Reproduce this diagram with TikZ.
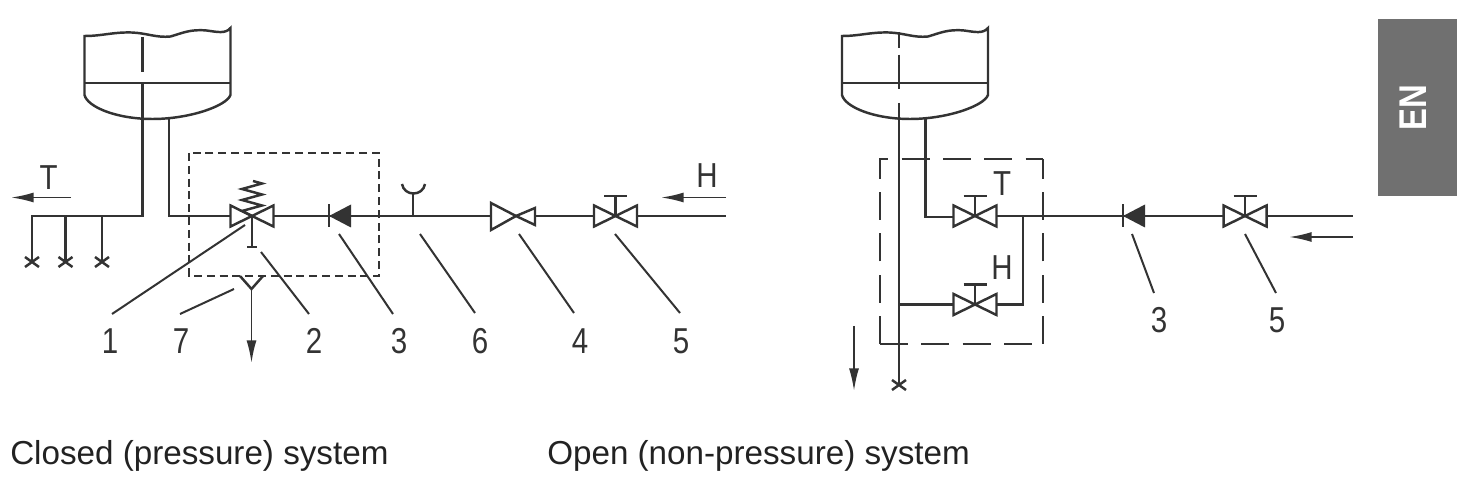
\documentclass[tikz,border=0pt]{standalone}
\usepackage{fontspec}
\usepackage{graphicx}
\setmainfont{Liberation Sans}
\usetikzlibrary{arrows.meta}
\definecolor{ink}{HTML}{333333}
\definecolor{txt}{HTML}{222222}
\definecolor{tabgrey}{HTML}{707070}
\tikzset{
  pipe/.style={draw=ink,line width=1.85pt,line join=miter},
  leader/.style={draw=ink,line width=1.5pt},
  shortbox/.style={draw=ink,line width=1.5pt,dash pattern=on 6pt off 3.6pt},
  longbox/.style={draw=ink,line width=1.8pt,dash pattern=on 21pt off 10pt},
  flow/.style={draw=ink,line width=1.4pt,-{Latex[length=17pt,width=7.5pt]}},
  num/.style={text=ink,font=\fontsize{27}{27}\selectfont,xscale=.82,inner sep=0pt},
  letter/.style={text=ink,font=\fontsize{26}{26}\selectfont,xscale=.85,inner sep=0pt},
  caption/.style={text=txt,font=\fontsize{24.9}{26}\selectfont,anchor=base west,inner sep=0pt},
  pics/valve/.style={code={
    \draw[pipe] (-21.5,-10.5) -- (0,0) -- (-21.5,10.5) -- cycle;
    \draw[pipe] (21.5,-10.5) -- (0,0) -- (21.5,10.5) -- cycle;}},
  pics/handvalve/.style={code={
    \draw[pipe] (-21.5,-10.5) -- (0,0) -- (-21.5,10.5) -- cycle;
    \draw[pipe] (21.5,-10.5) -- (0,0) -- (21.5,10.5) -- cycle;
    \draw[pipe] (0,0) -- (0,-20);
    \draw[pipe] (-11.5,-20) -- (11.5,-20);}},
  pics/check/.style={code={
    \fill[ink] (0,0) -- (22,-11.5) -- (22,11.5) -- cycle;
    \draw[pipe] (0,-11.5) -- (0,11.5);}},
  pics/cross/.style={code={
    \draw[pipe] (-7,-5) -- (7,5) (-7,5) -- (7,-5);}},
  pics/tank/.style={code={
    \draw[pipe] (0,36) .. controls (18,36) and (28,32) .. (47,32.5)
      .. controls (62,33) and (72,38) .. (86,36.5)
      .. controls (98,33) and (106,29) .. (122,30.5)
      .. controls (133,32) and (141,34) .. (146,28) -- (146,95)
      .. controls (142,106) and (105,119) .. (68,119)
      .. controls (32,119) and (3,107) .. (0,95) -- cycle;
    \draw[pipe] (0,83) -- (146,83);}}
}
\begin{document}
\begin{tikzpicture}[x=0.75pt,y=-0.75pt]
\useasboundingbox (0,0) rectangle (1459,484);
% ---------- closed system
\pic at (84.5,0) {tank};
\coordinate (ctop) at (142.5,37);
\coordinate (ctopb) at (142.5,72);
\coordinate (cout) at (142.5,83);
\coordinate (cbend) at (142.5,216);
\coordinate (cend) at (32,216);
\coordinate (cx1) at (32,262);
\coordinate (cj2) at (65.5,216);
\coordinate (cx2) at (65.5,262);
\coordinate (cj3) at (102,216);
\coordinate (cx3) at (102,262);
\draw[pipe] (ctop) -- (ctopb);
\draw[pipe] (cout) -- (cbend) -- (cend) -- (cx1);
\draw[pipe] (cj2) -- (cx2);
\draw[pipe] (cj3) -- (cx3);
\pic at (cx1) {cross};
\pic at (cx2) {cross};
\pic at (cx3) {cross};
\coordinate (ttl) at (11,197.5);
\coordinate (ttr) at (71,197.5);
\draw[flow] (ttr) -- (ttl);
\node[letter] (lT) at (48.5,178) {T};
% inlet line
\coordinate (cin) at (169,119);
\coordinate (cinb) at (169,216);
\coordinate (v1) at (252,216);
\coordinate (c3) at (329,216);
\coordinate (c6) at (413,216);
\coordinate (v4) at (516,216);
\coordinate (v5) at (615.5,216);
\coordinate (cr) at (726,216);
\draw[pipe] (cin) -- (cinb) -- (230,216);
\draw[pipe] (273.5,216) -- (c3);
\draw[pipe] (c3) -- (491,216);
\draw[pipe] (535,216) -- (594,216);
\draw[pipe] (637,216) -- (cr);
\draw[shortbox] (189,153) rectangle (379,276);
\pic at (v1) {valve};
\draw[pipe] (v1) -- ++(-10,-5) -- ++(20,-5.5) -- ++(-20,-5.5) -- ++(20,-5.5) -- ++(-20,-5.5) -- ++(20,-5.5) -- ++(-9,-2.5);
\draw[pipe] (v1) -- (252,247);
\draw[pipe] (247,247) -- (257,247);
\pic at (c3) {check};
% funnel 6
\coordinate (f6) at (413,193);
\draw[pipe] (c6) -- (f6);
\draw[pipe] (402,184) .. controls (403,190) and (408,193.5) .. (413.5,193.5) .. controls (419,193.5) and (424,190) .. (425,184);
% valve 4
\draw[pipe] (491,203) -- (v4) -- (491,230) -- cycle;
\draw[pipe] (535,208) -- (v4) -- (535,225) -- cycle;
\pic at (v5) {handvalve};
\coordinate (hr) at (726,197.5);
\coordinate (hl) at (661,197.5);
\draw[flow] (hr) -- (hl);
\node[letter] (lH) at (707,176) {H};
% funnel 7
\coordinate (f7) at (251.5,289);
\coordinate (f7end) at (251.5,363);
\draw[pipe] (240,276) -- (f7) -- (263,276);
\draw[flow] (f7) -- (f7end);
% leaders and numbers
\node[num] (n1) at (110,341) {1};
\node[num] (n7) at (181,341) {7};
\node[num] (n2) at (314,341) {2};
\node[num] (n3) at (399,341) {3};
\node[num] (n6) at (480,341) {6};
\node[num] (n4) at (580,341) {4};
\node[num] (n5) at (681,341) {5};
\coordinate (a1) at (245,225); \coordinate (b1) at (112,314);
\coordinate (a7) at (234,289); \coordinate (b7) at (180,314);
\coordinate (a2) at (261,252); \coordinate (b2) at (309,314);
\coordinate (a3) at (339,234); \coordinate (b3) at (393,314);
\coordinate (a6) at (420,234); \coordinate (b6) at (475,313);
\coordinate (a4) at (519,234); \coordinate (b4) at (574,313);
\coordinate (a5) at (615,234); \coordinate (b5) at (680,313);
\foreach \k in {1,7,2,3,6,4,5} \draw[leader] (a\k) -- (b\k);
% ---------- open system
\pic at (842,0) {tank};
\coordinate (otop) at (899,32);
\coordinate (oout) at (899,103);
\coordinate (ox) at (899,385);
\draw[draw=ink,line width=1.85pt,dash pattern=on 12pt off 5pt on 26pt off 20pt] (otop) -- (oout);
\draw[pipe] (oout) -- (ox);
\pic at (ox) {cross};
\coordinate (oin) at (925.5,119);
\coordinate (oinb) at (925.5,217);
\coordinate (vT) at (975,216);
\coordinate (vH) at (975,304.5);
\coordinate (oj) at (1023,216);
\coordinate (ojb) at (1023,304.5);
\coordinate (ol) at (899,304.5);
\coordinate (oc3) at (1123,216);
\coordinate (ov5) at (1245,216);
\coordinate (oend) at (1353,216);
\draw[pipe] (oin) -- (oinb) -- (953,217);
\pic at (vT) {handvalve};
\pic at (vH) {handvalve};
\draw[pipe] (997,216) -- (oj) -- (oc3);
\draw[pipe] (oj) -- (ojb) -- (997,304.5);
\draw[pipe] (ol) -- (953,304.5);
\draw[pipe] (oc3) -- (1223,216);
\draw[pipe] (1267,216) -- (oend);
\pic at (oc3) {check};
\pic at (ov5) {handvalve};
\draw[longbox] (880,344) -- (880,159) -- (1043,159);
\draw[longbox] (1043,344) -- (1043,159);
\draw[longbox] (880,344) -- (1043,344);
\node[letter] (oT) at (1002,184) {T};
\node[letter] (oH) at (1002,268) {H};
\coordinate (da) at (854,326);
\coordinate (db) at (854,391);
\draw[flow] (da) -- (db);
\coordinate (ia) at (1353,237);
\coordinate (ib) at (1289,237);
\draw[flow] (ia) -- (ib);
\node[num] (m3) at (1159,320) {3};
\node[num] (m5) at (1277,320) {5};
\coordinate (c3a) at (1132,234); \coordinate (c3b) at (1154,293);
\coordinate (c5a) at (1245,234); \coordinate (c5b) at (1276,293);
\draw[leader] (c3a) -- (c3b);
\draw[leader] (c5a) -- (c5b);
% ---------- tab and captions
\fill[tabgrey] (1377.5,19) rectangle (1457,196.5);
\node[rotate=90,text=white,font=\fontsize{29}{29}\selectfont\bfseries,inner sep=0pt] (en) at (1413.5,108) {\scalebox{.85}[1]{EN}};
\node[caption] (capA) at (10,464) {Closed (pressure) system};
\node[caption] (capB) at (547,464) {Open (non-pressure) system};
\end{tikzpicture}
\end{document}
